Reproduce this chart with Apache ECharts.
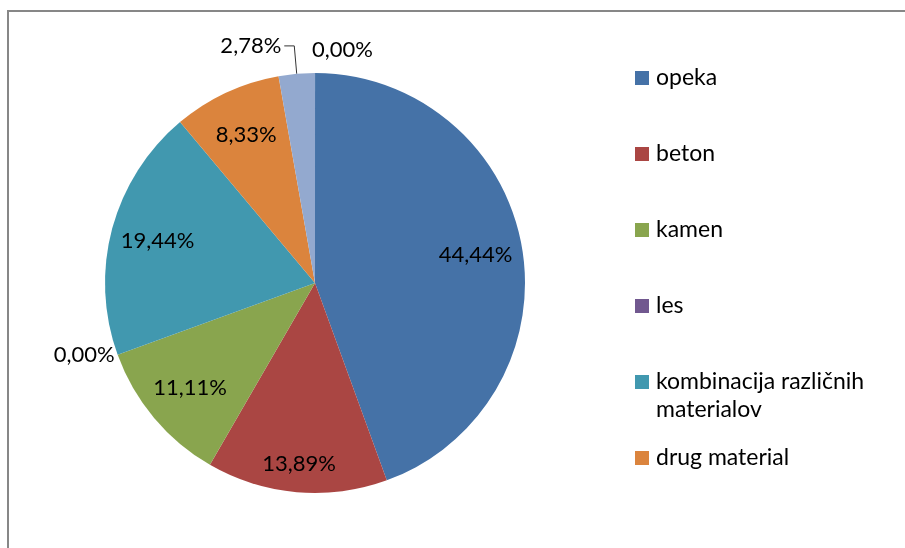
<!DOCTYPE html>
<html>
<head>
<meta charset="utf-8">
<title>Pie</title>
<script src="https://cdn.jsdelivr.net/npm/echarts@6/dist/echarts.min.js"></script>
<style>
  html, body { margin: 0; padding: 0; background: #fff; }
  #chart { width: 905px; height: 548px; }
</style>
</head>
<body>
<div id="chart"></div>
<script>
// podatki (deleži v %), zadnji dve kategoriji v legendi nista vidni
// the empty last category sits at 0° (top), so it is listed first here
const categories = ['kategorija 8', 'opeka', 'beton', 'kamen', 'les', 'kombinacija različnih materialov', 'drug material', 'kategorija 7']
const shares = [0, 44.44, 13.89, 11.11, 0, 19.44, 8.33, 2.78]
const colors = ['#D19392', '#4572A7', '#AA4643', '#89A54E', '#71588F', '#4198AF', '#DB843D', '#93A9CF']
const legendNames = ['opeka', 'beton', 'kamen', 'les', 'kombinacija različnih materialov', 'drug material']

// which labels go inside the slices, which outside
const insideIdx = [1, 3, 5, 6]
const insideFarIdx = [2]
const outsideIdx = [0, 4, 7]

const FONT = 'Lato'
const fmt = v => v.toFixed(2).replace('.', ',') + '%'
const center = [315, 283]
// a hair under 90 so the empty top slice puts its label to the right
const START = 89.99

const chart = echarts.init(document.getElementById('chart'))

const labelText = { color: '#000', fontFamily: FONT, fontSize: 22 }

// transparent ring only used to put the inner labels further out
const overlay = (name, radius, idx) => ({
  name,
  type: 'pie',
  center,
  radius,
  startAngle: START,
  silent: true,
  animation: false,
  avoidLabelOverlap: false,
  itemStyle: { color: 'rgba(0,0,0,0)' },
  emphasis: { disabled: true },
  labelLine: { show: false },
  data: categories.map((c, i) => ({
    name: c,
    value: shares[i],
    label: { show: idx.indexOf(i) >= 0, position: 'inside', formatter: p => fmt(p.value), ...labelText }
  }))
})

const mainData = categories.map((c, i) => {
  const item = { name: c, value: shares[i], itemStyle: { color: colors[i] } }
  const out = outsideIdx.indexOf(i) >= 0
  item.label = { show: out }
  if (out) {
    item.labelLine = i === 7
      ? { show: true, length: 28, length2: 10, lineStyle: { color: '#333', width: 1 } }
      : { show: false, length: i === 0 ? 23 : 0, length2: 0 }
  }
  if (i === 0) item.label.distanceToLabelLine = -3
  return item
})

chart.setOption({
  animation: false,
  graphic: [{
    type: 'rect',
    shape: { x: 8, y: 11, width: 1200, height: 1200 },
    style: { fill: 'none', stroke: '#878787', lineWidth: 2 },
    silent: true
  }],
  legend: {
    orient: 'vertical',
    left: 635,
    top: 36,
    padding: 0,
    itemGap: -8,
    itemWidth: 14,
    itemHeight: 14,
    icon: 'rect',
    selectedMode: false,
    textStyle: { color: '#000', fontFamily: FONT, fontSize: 23, lineHeight: 28, padding: [28, 0, 28, 2] },
    // long name wraps, its first line stays level with the icon
    formatter: n => n.indexOf('različnih ') > 0 ? ' \n' + n.replace('različnih ', 'različnih\n') : n,
    data: legendNames.map(n => n.indexOf('različnih ') > 0
      ? { name: n, textStyle: { padding: [0, 0, 0, 2] } }
      : n)
  },
  series: [
    {
      name: 'material',
      type: 'pie',
      center,
      radius: 210,
      startAngle: START,
      avoidLabelOverlap: false,
      itemStyle: { borderWidth: 0 },
      label: { position: 'outside', distanceToLabelLine: 3, formatter: p => fmt(p.value), ...labelText },
      data: mainData
    },
    overlay('labels', [110, 210], insideIdx),
    overlay('labels2', [148, 210], insideFarIdx)
  ]
})
</script>
</body>
</html>
